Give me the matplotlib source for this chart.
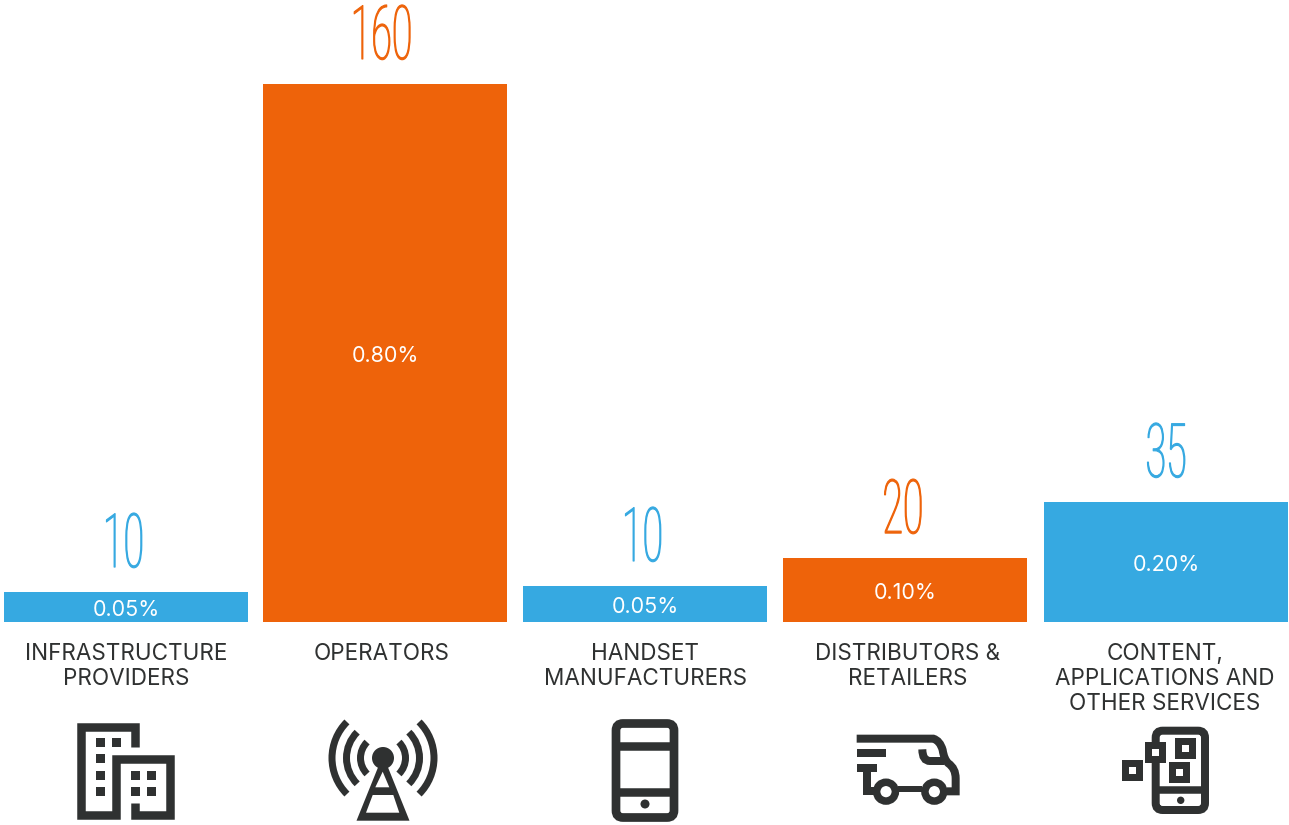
import numpy as np
import matplotlib
matplotlib.use("Agg")
import matplotlib.pyplot as plt
from matplotlib.patches import Arc, Circle, FancyBboxPatch, Polygon, Rectangle, PathPatch
from matplotlib.path import Path
from matplotlib.patheffects import AbstractPathEffect
from matplotlib.transforms import Affine2D

# data
categories = ["INFRASTRUCTURE\nPROVIDERS", "OPERATORS", "HANDSET\nMANUFACTURERS",
              "DISTRIBUTORS &\nRETAILERS", "CONTENT,\nAPPLICATIONS AND\nOTHER SERVICES"]
value_labels = ["10", "160", "10", "20", "35"]
bar_heights = [8.9, 160, 10.7, 19, 35.7]
share_labels = ["0.05%", "0.80%", "0.05%", "0.10%", "0.20%"]

BLUE = "#36A9E1"
ORANGE = "#EE630A"
DARK = "#2F3131"
bar_colors = [BLUE, ORANGE, BLUE, ORANGE, BLUE]

# layout in pixels
W, H = 1289, 825
bar_x = [126, 385, 645, 905, 1166]
value_x = [123, 381, 642, 903, 1166]
label_x = [126, 382, 645, 908, 1165]


class Squeeze(AbstractPathEffect):
    # no condensed font installed, so narrow the glyphs around the text centre
    def __init__(self, sx, weight):
        super().__init__()
        self.sx = sx
        self.weight = weight

    def draw_path(self, renderer, gc, tpath, affine, rgbFace=None):
        ext = tpath.transformed(affine).get_extents()
        cx = (ext.x0 + ext.x1) / 2
        t = affine + Affine2D().translate(-cx, 0).scale(self.sx, 1).translate(cx, 0)
        gc0 = renderer.new_gc()
        gc0.copy_properties(gc)
        gc0.set_linewidth(self.weight)
        gc0.set_foreground(rgbFace)
        renderer.draw_path(gc0, tpath, t, rgbFace)
        gc0.restore()


fig = plt.figure(figsize=(W / 100, H / 100), dpi=100)

# bars: baseline at y=622px, 160 reaches y=84px
ax = fig.add_axes([0, (H - 622) / H, 1, (622 - 84) / H])
ax.set_xlim(0, W)
ax.set_ylim(0, 160)
ax.axis("off")
ax.bar(bar_x, bar_heights, width=244, color=bar_colors)

label_font = ["Inter", "DejaVu Sans"]
digit_font = ["Roboto", "DejaVu Sans"]

for i in range(len(categories)):
    ax.annotate(share_labels[i], (bar_x[i], bar_heights[i] / 2), xytext=(0, -2), textcoords="offset points",
                ha="center", va="center", color="white", fontsize=15.5, family=label_font,
                annotation_clip=False)
    ax.annotate(value_labels[i], (value_x[i], bar_heights[i]), xytext=(0, 18), textcoords="offset points",
                ha="center", va="baseline", color=bar_colors[i], fontsize=54, fontweight="light",
                family=digit_font, annotation_clip=False, path_effects=[Squeeze(0.5, 0.8)])

# pixel overlay for labels and icons
ov = fig.add_axes([0, 0, 1, 1], zorder=3)
ov.set_xlim(0, W)
ov.set_ylim(H, 0)
ov.axis("off")
ov.patch.set_alpha(0)

for lx, c in zip(label_x, categories):
    ov.text(lx, 643, c, ha="center", va="top", color=DARK, fontsize=16.2,
            family=label_font, linespacing=1.19)


def px(v):
    return v * 72 / 100


def stroke(pts, lw=8.5):
    xs, ys = zip(*pts)
    ov.plot(xs, ys, color=DARK, lw=px(lw), solid_capstyle="butt", solid_joinstyle="miter")


def box(x0, y0, x1, y1, color=DARK):
    ov.add_patch(Rectangle((x0, y0), x1 - x0, y1 - y0, fc=color, ec="none", zorder=5))


def rounded(x0, y0, x1, y1, r, lw):
    ov.add_patch(FancyBboxPatch((x0 + r, y0 + r), x1 - x0 - 2 * r, y1 - y0 - 2 * r,
                                boxstyle="round,pad=%g,rounding_size=%g" % (r, r),
                                fc="none", ec=DARK, lw=px(lw)))


# building
stroke([(134.5, 747), (134.5, 726.5), (81, 726.5), (81, 814.5), (115.8, 814.5), (115.8, 758.5),
        (169.5, 758.5), (169.5, 814.5), (134.5, 814.5), (134.5, 803)])
for bx, by in [(96, 738), (112, 738), (96, 754), (96, 771), (96, 787),
               (131, 771), (147, 771), (131, 787), (147, 787)]:
    box(bx - 0.5, by, bx + 8.5, by + 9)

# antenna
ac = (383, 758)
ov.add_patch(Circle(ac, 11, fc=DARK, ec="none"))
ov.add_patch(Polygon([(356.5, 820.7), (409.5, 820.7), (383, 755)], fc=DARK, ec="none"))
ov.add_patch(Polygon([(375.3, 787.3), (389.3, 787.3), (382.7, 771.7)], fc="white", ec="none"))
ov.add_patch(Polygon([(366, 812.7), (399.3, 812.7), (393.3, 795), (372.7, 795)], fc="white", ec="none"))
for r in [51, 36.5, 22.5]:
    for start in [-45, 135]:
        ov.add_patch(Arc(ac, 2 * r, 2 * r, theta1=start, theta2=start + 90,
                         color=DARK, lw=px(7), capstyle="butt"))

# phone
rounded(616, 723.5, 674, 817.5, 7, 8.7)
stroke([(616, 746), (674, 746)])
stroke([(616, 791.5), (674, 791.5)])
ov.add_patch(Circle((645, 804), 4.5, fc=DARK, ec="none"))


# van, coordinates from the 3x crop
def vx(v):
    return 590 + v / 3


def vy(v):
    return 700 + v / 3


def vline(pts, lw=8):
    stroke([(vx(a), vy(b)) for a, b in pts], lw=lw)


roof = Path([(vx(800), vy(116)), (vx(1030), vy(116)), (vx(1050), vy(122)), (vx(1058), vy(150)),
             (vx(1062), vy(178)), (vx(1075), vy(190)), (vx(1097), vy(205)), (vx(1097), vy(235)),
             (vx(1097), vy(274)), (vx(1070), vy(274))],
            [Path.MOVETO, Path.LINETO, Path.CURVE3, Path.CURVE3, Path.CURVE3, Path.CURVE3,
             Path.CURVE3, Path.CURVE3, Path.LINETO, Path.LINETO])
ov.add_patch(PathPatch(roof, fc="none", ec=DARK, lw=px(8), capstyle="butt", joinstyle="miter"))
vline([(800, 158), (888, 158)])
vline([(800, 204), (862, 204)])
vline([(830, 204), (830, 274), (855, 274)])
vline([(925, 268), (995, 268)], lw=6)
window = Path([(vx(997), vy(148)), (vx(997), vy(183)), (vx(1020), vy(183)), (vx(1062), vy(183))],
              [Path.MOVETO, Path.CURVE3, Path.CURVE3, Path.LINETO])
ov.add_patch(PathPatch(window, fc="none", ec=DARK, lw=px(8), capstyle="butt"))
for cx in [888, 1033]:
    ov.add_patch(Circle((vx(cx), vy(275)), 9.4, fc="white", ec=DARK, lw=px(7.5), zorder=4))

# phone with tiles
rounded(1155.7, 730.7, 1205, 810, 7, 8)
stroke([(1155.7, 789.7), (1205, 789.7)], lw=7.5)
ov.add_patch(Circle((1180.7, 800.3), 3.7, fc=DARK, ec="none"))
for x0, y0 in [(135, 95), (224, 83), (208, 157), (67, 150)]:
    ax0, ay0 = 1100 + x0 / 3, 710 + y0 / 3
    box(ax0, ay0, ax0 + 21, ay0 + 21)
    box(ax0 + 7, ay0 + 7, ax0 + 14, ay0 + 14, color="white")

fig.savefig("out.png", dpi=100)
